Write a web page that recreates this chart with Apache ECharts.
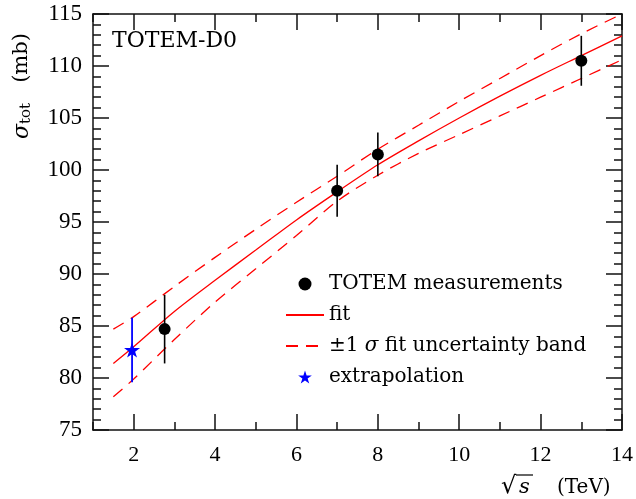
<!DOCTYPE html>
<html>
<head>
<meta charset="utf-8">
<title>TOTEM-D0</title>
<script src="https://cdn.jsdelivr.net/npm/echarts@6/dist/echarts.min.js"></script>
<style>
  * { margin: 0; padding: 0 }
  html, body { width: 100%; height: 100%; background: #fff; }
  #main { width: 636px; height: 499px; }
</style>
</head>
<body>
<div id="main"></div>
<script type="text/javascript">
// measurements: sqrt(s) [TeV], sigma_tot [mb], error [mb]
var totemX = [2.76, 7, 8, 13];
var totemY = [84.7, 98.0, 101.5, 110.5];
var totemErr = [3.3, 2.5, 2.1, 2.4];

var extrapX = [1.96];
var extrapY = [82.7];
var extrapErr = [3.1];

// fit curve and band
var fitX = [1.5, 2, 3, 4, 5, 6, 7, 8, 9, 10, 11, 12, 13, 14];
var fitY = [81.4, 83.0, 86.4, 89.4, 92.3, 95.2, 97.9, 100.5, 102.8, 105.0, 107.1, 109.1, 111.0, 112.9];
var bandUp = [84.7, 85.9, 88.8, 91.6, 94.3, 96.9, 99.4, 102.0, 104.3, 106.6, 108.8, 111.0, 113.1, 115.0];
var bandLo = [78.2, 79.9, 83.7, 87.3, 90.5, 93.7, 97.0, 99.5, 101.6, 103.4, 105.2, 107.0, 108.8, 110.6];

var xMajor = [2, 4, 6, 8, 10, 12, 14];
var xMinor = [1, 3, 5, 7, 9, 11, 13];

var legendNames = ['TOTEM measurements', 'fit', '±1 σ fit uncertainty band', 'extrapolation'];

var starPath = 'path://M50 0 L61.23 34.55 L97.55 34.55 L68.16 55.9 L79.39 90.45 L50 69.1 L20.61 90.45 L31.84 55.9 L2.45 34.55 L38.77 34.55 Z';
var numFont = 'Liberation Serif';
var txtFont = 'DejaVu Serif';

function zip(a, b, c) {
  return a.map(function (v, i) { return c ? [v, b[i], c[i]] : [v, b[i]]; });
}

function errBar(color, width) {
  return function (params, api) {
    var x = api.value(0), y = api.value(1), e = api.value(2);
    var p1 = api.coord([x, y + e]);
    var p2 = api.coord([x, y - e]);
    return {
      type: 'line',
      shape: { x1: p1[0], y1: p1[1], x2: p2[0], y2: p2[1] },
      style: { stroke: color, lineWidth: width }
    };
  };
}

function xAx(pos, ticks, len, withLine, withLabel) {
  return {
    type: 'value', position: pos, min: 1, max: 14,
    axisLine: { show: withLine, onZero: false, lineStyle: { color: '#111', width: 1.5 } },
    axisTick: { show: true, inside: true, length: len, customValues: ticks, lineStyle: { color: '#111', width: 1.5 } },
    axisLabel: { show: withLabel, customValues: ticks, margin: 14, color: '#000', fontSize: 22, fontFamily: numFont },
    splitLine: { show: false }
  };
}

function yAx(pos, withLabel) {
  return {
    type: 'value', position: pos, min: 75, max: 115, interval: 5,
    axisLine: { show: true, onZero: false, lineStyle: { color: '#111', width: 1.5 } },
    axisTick: { show: true, inside: true, length: 16, lineStyle: { color: '#111', width: 1.5 } },
    minorTick: { show: true, splitNumber: 5, length: 8, lineStyle: { color: '#111', width: 1.5 } },
    axisLabel: { show: withLabel, margin: 11, color: '#000', fontSize: 23, fontFamily: numFont },
    splitLine: { show: false }
  };
}

var noSymbol = { color: 'rgba(0,0,0,0)', borderWidth: 0 };

var chart = echarts.init(document.getElementById('main'));
chart.setOption({
  animation: false,
  backgroundColor: '#fff',
  grid: { left: 93, right: 13, top: 14, bottom: 69 },
  xAxis: [
    xAx('bottom', xMajor, 16, true, true),
    xAx('bottom', xMinor, 8, false, false),
    xAx('top', xMajor, 16, true, false),
    xAx('top', xMinor, 8, false, false)
  ],
  yAxis: [yAx('left', true), yAx('right', false)],
  legend: {
    data: [
      { name: legendNames[0] },
      { name: legendNames[1], itemStyle: noSymbol },
      { name: legendNames[2], itemStyle: noSymbol },
      { name: legendNames[3] }
    ],
    orient: 'vertical',
    left: 280, top: 269,
    itemWidth: 38, itemHeight: 13, itemGap: 11,
    textStyle: {
      color: '#000', fontSize: 20, fontFamily: txtFont,
      rich: { i: { fontStyle: 'italic', fontSize: 20, fontFamily: txtFont } }
    },
    formatter: function (name) { return name.replace('σ', '{i|σ}'); }
  },
  graphic: [
    { type: 'text', left: 112, top: 30, style: { text: 'TOTEM-D0', fontSize: 22, fontFamily: txtFont, fill: '#000' } },
    {
      type: 'text', x: 22, y: 139, rotation: Math.PI / 2,
      style: {
        text: '{s|σ}{t|tot}{n|   (mb)}', align: 'left', verticalAlign: 'middle',
        rich: {
          s: { fontSize: 22, fontStyle: 'italic', fontFamily: txtFont, fill: '#000' },
          t: { fontSize: 15, fontFamily: txtFont, fill: '#000', padding: [9, 0, 0, 0] },
          n: { fontSize: 21, fontFamily: txtFont, fill: '#000' }
        }
      }
    },
    { type: 'text', x: 501, y: 487, style: { text: '√', fontSize: 24, fontFamily: txtFont, fill: '#000', align: 'left', verticalAlign: 'middle' } },
    { type: 'line', shape: { x1: 516, y1: 475, x2: 533, y2: 475 }, style: { stroke: '#000', lineWidth: 1.2 } },
    { type: 'text', x: 519, y: 488, style: { text: 's', fontSize: 21, fontStyle: 'italic', fontFamily: txtFont, fill: '#000', align: 'left', verticalAlign: 'middle' } },
    { type: 'text', x: 557, y: 488, style: { text: '(TeV)', fontSize: 20, fontFamily: txtFont, fill: '#000', align: 'left', verticalAlign: 'middle' } }
  ],
  series: [
    {
      name: 'fit', type: 'line', data: zip(fitX, fitY), smooth: 0.3,
      symbol: 'none', lineStyle: { color: '#ff0000', width: 1.3 }, itemStyle: { color: '#ff0000' }, z: 2
    },
    {
      name: '±1 σ fit uncertainty band', type: 'line', data: zip(fitX, bandUp), smooth: 0.3,
      symbol: 'none', lineStyle: { color: '#ff0000', width: 1.3, type: [12, 8] }, itemStyle: { color: '#ff0000' }, z: 2
    },
    {
      name: '±1 σ fit uncertainty band', type: 'line', data: zip(fitX, bandLo), smooth: 0.3,
      symbol: 'none', lineStyle: { color: '#ff0000', width: 1.3, type: [12, 8] }, itemStyle: { color: '#ff0000' }, z: 2
    },
    {
      name: 'totem errors', type: 'custom', data: zip(totemX, totemY, totemErr),
      encode: { x: 0, y: 1 }, renderItem: errBar('#000', 1.6), z: 3
    },
    {
      name: 'TOTEM measurements', type: 'scatter', data: zip(totemX, totemY),
      symbol: 'circle', symbolSize: 12, itemStyle: { color: '#000', opacity: 1 }, z: 4
    },
    {
      name: 'extrapolation errors', type: 'custom', data: zip(extrapX, extrapY, extrapErr),
      encode: { x: 0, y: 1 }, renderItem: errBar('#0000ff', 1.8), z: 3
    },
    {
      name: 'extrapolation', type: 'scatter', data: zip(extrapX, extrapY),
      symbol: starPath, symbolSize: 16, symbolKeepAspect: true, itemStyle: { color: '#0000ff', opacity: 1 }, z: 5
    }
  ]
});
</script>
</body>
</html>
